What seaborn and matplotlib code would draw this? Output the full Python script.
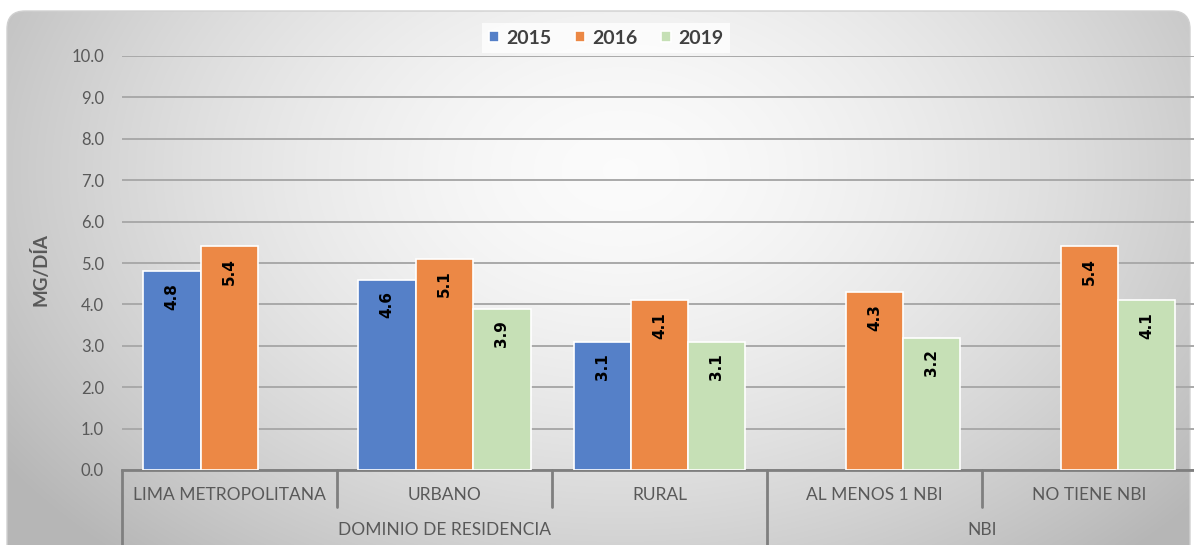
import numpy as np
import pandas as pd
import matplotlib.pyplot as plt
import matplotlib.transforms as mtransforms
from matplotlib.patches import FancyBboxPatch
import seaborn as sns

# data
categorias = ['LIMA METROPOLITANA', 'URBANO', 'RURAL', 'AL MENOS 1 NBI', 'NO TIENE NBI']
grupos = ['DOMINIO DE RESIDENCIA', 'DOMINIO DE RESIDENCIA', 'DOMINIO DE RESIDENCIA', 'NBI', 'NBI']
anios = ['2015', '2016', '2019']
v2015 = [4.8, 4.6, 3.1, np.nan, np.nan]
v2016 = [5.4, 5.1, 4.1, 4.3, 5.4]
v2019 = [np.nan, 3.9, 3.1, 3.2, 4.1]
colores = ['#5580C8', '#EC8845', '#C6E0B6']

rows = []
for anio, vals in zip(anios, [v2015, v2016, v2019]):
    for cat, v in zip(categorias, vals):
        rows.append({'categoria': cat, 'anio': anio, 'valor': v})
df = pd.DataFrame(rows)

sns.set_style('white')
plt.rcParams['font.family'] = ['Lato', 'DejaVu Sans']

W, H = 1194, 545
fig = plt.figure(figsize=(W / 100, H / 100), dpi=100)

# background: rounded panel with radial gradient
bg = fig.add_axes([0, 0, 1, 1])
bg.set_xlim(0, W)
bg.set_ylim(H, 0)
bg.axis('off')
yy, xx = np.mgrid[0:H, 0:W]
r = np.sqrt(((xx - 620) / 750.0) ** 2 + ((yy - 170) / 520.0) ** 2)
r = np.clip(r, 0, 1)
g = 0.985 - 0.27 * r ** 1.6
img = bg.imshow(np.dstack([g, g, g]), extent=(0, W, H, 0), aspect='auto')
panel = FancyBboxPatch((7, 11), 1183, 560, boxstyle='round,pad=0,rounding_size=18',
                       facecolor='none', edgecolor='#d0d0d0', lw=1)
bg.add_patch(panel)
img.set_clip_path(panel)

# plot area
x0, x1 = 122, W
ytop, ybot = 56, 470
ax = fig.add_axes([x0 / W, (H - ybot) / H, (x1 - x0) / W, (ybot - ytop) / H])
ax.patch.set_alpha(0)

sns.barplot(data=df, x='categoria', y='valor', hue='anio', order=categorias,
            hue_order=anios, palette=colores, saturation=1, width=0.8,
            edgecolor='white', linewidth=1.2, ax=ax, zorder=3)

ax.set_ylim(0, 10)
ax.set_xlim(-0.5, 4.5 - 3 / 215)
ticks = np.arange(0, 10.01, 1)
ax.set_yticks(ticks)
ax.set_yticklabels([f'{t:.1f}' for t in ticks], fontsize=12, color='#595959')
ax.tick_params(axis='y', length=0, pad=13)
ax.yaxis.grid(True, color='#a9a9a9', lw=1.4, zorder=0)
ax.set_axisbelow(True)
for s in ['top', 'right', 'left']:
    ax.spines[s].set_visible(False)
ax.spines['bottom'].set_color('#7f7f7f')
ax.spines['bottom'].set_linewidth(2)
ax.set_xticks([])
ax.set_xlabel('')
ax.set_ylabel('MG/DÍA', fontsize=13.5, color='#595959', fontweight='bold')
ax.yaxis.set_label_coords(-0.068, 0.485)

# value labels inside bars
for p in ax.patches:
    h = p.get_height()
    if not np.isfinite(h) or h <= 0:
        continue
    ax.annotate(f'{h:.1f}', (p.get_x() + p.get_width() / 2, h), xytext=(0, -8.5),
                textcoords='offset points', rotation=90, ha='center', va='top',
                fontsize=11, fontweight='bold', color='black',
                family='DejaVu Sans', zorder=5)

# two-level category axis
tr = mtransforms.blended_transform_factory(ax.transData, ax.transAxes)
ppu = ybot - ytop
y_inner = -(507 - ybot) / ppu
y_outer = -(H + 5 - ybot) / ppu
for i, cat in enumerate(categorias):
    ax.text(i, -(495 - ybot) / ppu, cat, transform=tr, ha='center', va='center',
            fontsize=12.5, color='#595959')
bounds = [-0.5, 0.5, 1.5, 2.5, 3.5, 4.5]
for b in bounds:
    largo = b in (-0.5, 2.5, 4.5)
    ax.plot([b, b], [0, y_outer if largo else y_inner], transform=tr, color='#7f7f7f',
            lw=2, clip_on=False)
ax.text(1, -(530 - ybot) / ppu, grupos[0], transform=tr, ha='center', va='center',
        fontsize=12.5, color='#595959')
ax.text(3.5, -(530 - ybot) / ppu, grupos[3], transform=tr, ha='center', va='center',
        fontsize=12.5, color='#595959')

# legend
handles, labels = ax.get_legend_handles_labels()
ax.legend(handles, labels, loc='center', bbox_to_anchor=((606 - x0) / (x1 - x0), 1 + (ytop - 38) / ppu),
          ncol=3, frameon=True, facecolor='white', edgecolor='none', framealpha=0.75,
          fancybox=False, handlelength=0.55, handleheight=0.55, handletextpad=0.35,
          columnspacing=1.2, borderpad=0.35,
          prop={'size': 14, 'weight': 'bold', 'family': 'Lato'}, labelcolor='#404040')

fig.savefig('out.png', dpi=100)
